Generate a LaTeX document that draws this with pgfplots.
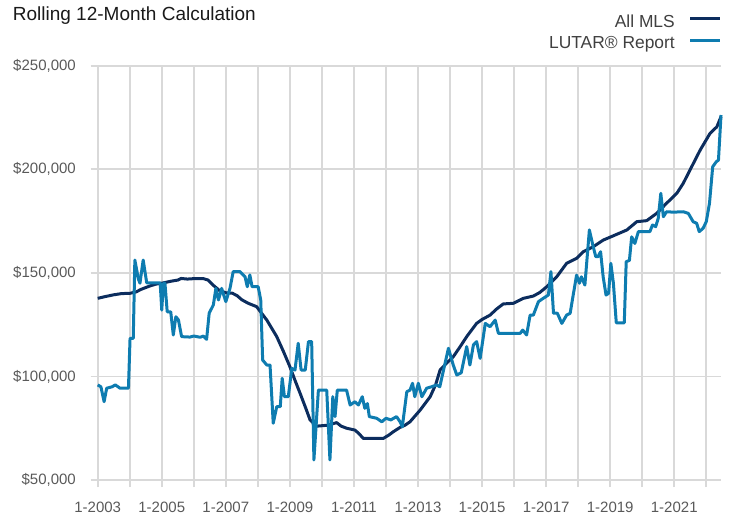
\documentclass[border=0pt]{standalone}
\usepackage{pgfplots}
\pgfplotsset{compat=1.18}
\usepackage{fontspec}
\setmainfont{Liberation Sans}
\definecolor{gridgray}{RGB}{217,217,217}
\definecolor{mlsblue}{RGB}{12,45,94}
\definecolor{lutarblue}{RGB}{14,124,176}
\definecolor{ticktext}{RGB}{89,89,89}
\definecolor{legtext}{RGB}{64,64,64}
\definecolor{titletext}{RGB}{26,26,26}
\begin{document}
\begin{tikzpicture}[x=1pt,y=1pt]
\useasboundingbox (0,0) rectangle (729,515);
\begin{axis}[
  at={(97.7pt,35pt)}, anchor=south west,
  width=623pt, height=414.3pt, scale only axis,
  xmin=2003, xmax=2022.45, ymin=50000, ymax=250000,
  clip=false,
  xtick={2003,2005,2007,2009,2011,2013,2015,2017,2019,2021},
  xticklabels={1-2003,1-2005,1-2007,1-2009,1-2011,1-2013,1-2015,1-2017,1-2019,1-2021},
  minor xtick={2004,2006,2008,2010,2012,2014,2016,2018,2020,2022},
  ytick={50000,100000,150000,200000,250000},
  yticklabels={{\$50,000},{\$100,000},{\$150,000},{\$200,000},{\$250,000}},
  scaled y ticks=false,
  grid=both,
  major grid style={gridgray, line width=1.8pt},
  minor grid style={gridgray, line width=1.8pt},
  tick align=outside, tick pos=left,
  major tick length=7pt, minor tick length=7pt,
  tick style={gridgray, line width=1.8pt},
  axis line style={draw=none},
  tick label style={font=\fontsize{15}{15}\selectfont, text=ticktext},
  yticklabel style={inner sep=0pt, anchor=east, xshift=-14.7pt},
  xticklabel style={inner sep=0pt, anchor=north, yshift=-14.7pt},
  title={Rolling 12-Month Calculation},
  title style={at={(axis description cs:-0.1364,1.1144)}, anchor=base west, inner sep=0pt,
    yshift=-8pt, font=\fontsize{19}{19}\selectfont, text=titletext},
  legend style={at={(axis description cs:1.0016,1.1248)}, anchor=north east,
    draw=none, fill=none, inner sep=0pt, row sep=4.7pt, column sep=13.7pt,
    font=\fontsize{17.4}{17.4}\selectfont, text=legtext,
    nodes={inner sep=0pt, text height=13pt, text depth=4pt}},
  legend cell align=right,
  legend plot pos=right,
  legend image code/.code={\draw[#1] (0pt,4.2pt) -- (30pt,4.2pt);},
]
\addplot[mlsblue, line width=3pt, line join=round] coordinates {
(2003.00,137700) (2003.25,138600) (2003.5,139400) (2003.75,140000) (2004.0,140100)
(2004.2,140800) (2004.35,142000) (2004.6,143500) (2004.8,144500) (2005.0,145000)
(2005.3,146000) (2005.5,146500) (2005.6,147300) (2005.8,147000) (2006.0,147200)
(2006.3,147200) (2006.45,146500) (2006.61,144000) (2006.8,141500) (2007.0,140400)
(2007.2,140200) (2007.35,139000) (2007.5,137000) (2007.7,135300) (2007.96,133700)
(2008.28,127200) (2008.59,119200) (2008.8,112000) (2009.0,104700) (2009.15,98500)
(2009.32,91800) (2009.5,84500) (2009.63,79000) (2009.84,76000) (2010.15,76400)
(2010.35,77200) (2010.46,77700) (2010.6,76000) (2010.77,75000) (2011.03,74100)
(2011.15,72500) (2011.29,70100) (2011.6,70100) (2011.92,70100) (2012.1,71800)
(2012.23,73300) (2012.44,75400) (2012.6,76500) (2012.75,78100) (2013.07,83800)
(2013.38,90200) (2013.55,96000) (2013.69,103100) (2013.9,106500) (2014.1,109500)
(2014.3,114000) (2014.52,119200) (2014.83,125600) (2015.0,127500) (2015.25,129600)
(2015.45,132500) (2015.66,135000) (2015.98,135300) (2016.29,137700) (2016.6,138800)
(2016.8,140500) (2017.02,143300) (2017.33,148100) (2017.64,154600) (2017.95,157000)
(2018.16,160200) (2018.47,162600) (2018.78,165800) (2019.1,167900) (2019.52,170700)
(2019.83,174700) (2020.14,175200) (2020.45,178700) (2020.76,183600) (2021.08,188400)
(2021.28,193200) (2021.49,199600) (2021.81,209300) (2022.12,217400) (2022.33,220500)
(2022.46,225400)
};
\addlegendentry{All MLS}
\addplot[lutarblue, line width=3pt, line join=round] coordinates {
(2003.00,95900) (2003.1,95000) (2003.2,87800) (2003.28,94300) (2003.45,95000)
(2003.55,95900) (2003.7,94300) (2003.96,94300) (2004.01,118400) (2004.11,118400)
(2004.16,156200) (2004.27,147000) (2004.32,145000) (2004.42,156200) (2004.53,145200)
(2004.95,145200) (2005.0,132000) (2005.05,145000) (2005.1,145000) (2005.17,131200)
(2005.28,131200) (2005.36,120000) (2005.44,128800) (2005.52,127300) (2005.62,119200)
(2005.88,119000) (2006.0,119500) (2006.2,118900) (2006.3,119500) (2006.4,117900)
(2006.48,130500) (2006.61,134500) (2006.69,142500) (2006.77,136900) (2006.87,142500)
(2007.0,136100) (2007.13,142500) (2007.23,150600) (2007.44,150600) (2007.6,148100)
(2007.67,143300) (2007.75,149000) (2007.82,143300) (2008.01,143300) (2008.09,136900)
(2008.15,107900) (2008.28,105500) (2008.38,105500) (2008.48,77400) (2008.59,85400)
(2008.7,85400) (2008.76,99100) (2008.83,90200) (2008.95,90200) (2009.06,103900)
(2009.16,103100) (2009.26,116000) (2009.35,103100) (2009.48,103100) (2009.58,116800)
(2009.68,116800) (2009.75,59700) (2009.89,93400) (2010.15,93400) (2010.25,59700)
(2010.34,90200) (2010.41,80600) (2010.48,93400) (2010.77,93400) (2010.88,86200)
(2011.03,87800) (2011.14,86200) (2011.26,90200) (2011.34,84600) (2011.42,86900)
(2011.48,80600) (2011.71,79800) (2011.87,78100) (2012.0,79800) (2012.15,79000)
(2012.33,80600) (2012.44,78100) (2012.51,75700) (2012.65,92600) (2012.75,93400)
(2012.83,96700) (2012.9,90200) (2013.01,96700) (2013.12,90200) (2013.27,94300)
(2013.42,95000) (2013.58,95900) (2013.68,95000) (2013.95,113600) (2014.1,105500)
(2014.21,100700) (2014.35,101800) (2014.52,114400) (2014.62,105500) (2014.73,115200)
(2014.83,116800) (2014.94,108700) (2015.1,125600) (2015.25,124000) (2015.41,127200)
(2015.51,120800) (2016.19,120800) (2016.27,122400) (2016.39,120000) (2016.5,129600)
(2016.6,129600) (2016.76,136100) (2016.91,137700) (2017.07,139300) (2017.15,150600)
(2017.23,130500) (2017.35,130500) (2017.49,125600) (2017.64,129600) (2017.75,130500)
(2017.95,148900) (2018.04,145000) (2018.1,148100) (2018.21,144100) (2018.35,170700)
(2018.47,162600) (2018.55,157800) (2018.62,157800) (2018.7,160200) (2018.78,148100)
(2018.87,139300) (2018.95,140100) (2019.02,154600) (2019.1,145000) (2019.19,125900)
(2019.44,125900) (2019.5,155400) (2019.6,156000) (2019.67,167400) (2019.77,164200)
(2019.88,169900) (2020.24,169900) (2020.32,173100) (2020.42,172300) (2020.5,176300)
(2020.58,188400) (2020.66,177100) (2020.76,179500) (2020.97,179300) (2021.28,179500)
(2021.44,178700) (2021.59,174700) (2021.7,173900) (2021.78,169900) (2021.9,171500)
(2022.0,174700) (2022.1,183600) (2022.2,201200) (2022.31,203600) (2022.38,204400)
(2022.46,226200)
};
\addlegendentry{LUTAR\textregistered{} Report}
\end{axis}
\end{tikzpicture}
\end{document}
